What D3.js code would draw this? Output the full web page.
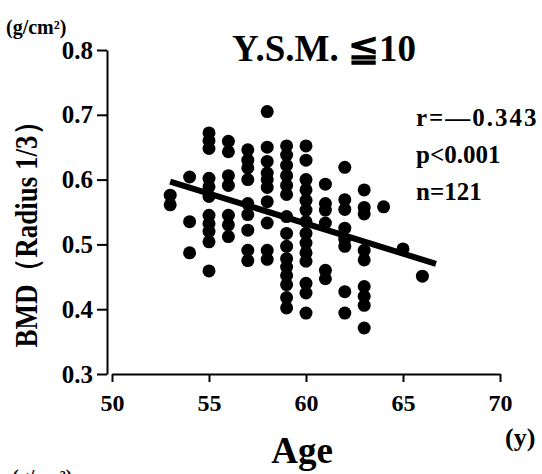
<!DOCTYPE html>
<html>
<head>
<meta charset="utf-8">
<script src="https://cdn.jsdelivr.net/npm/d3@7"></script>
<style>
  html, body { margin: 0; padding: 0; background: #fff; }
  svg { display: block; }
  text { font-family: "Liberation Serif", "Times New Roman", serif; font-weight: bold; fill: #000; }
</style>
</head>
<body>
<svg id="chart" width="542" height="474"></svg>
<script>
// Age (years) of each subject, paired index-wise with BMD values below
const ageValues = [
  53, 53,
  54, 54, 54,
  55, 55, 55, 55, 55, 55, 55, 55, 55, 55, 55,
  56, 56, 56, 56, 56, 56, 56,
  57, 57, 57, 57, 57, 57, 57, 57, 57,
  58, 58, 58, 58, 58, 58, 58, 58, 58, 58,
  59, 59, 59, 59, 59, 59, 59, 59, 59, 59, 59, 59, 59, 59, 59,
  60, 60, 60, 60, 60, 60, 60, 60, 60, 60, 60, 60, 60, 60,
  61, 61, 61, 61, 61, 61,
  62, 62, 62, 62, 62, 62, 62, 62,
  63, 63, 63, 63, 63, 63, 63, 63, 63,
  64, 65, 66
];
// BMD, radius 1/3 site (g/cm²)
const bmdValues = [
  0.576, 0.561,
  0.604, 0.535, 0.487,
  0.672, 0.660, 0.648, 0.602, 0.589, 0.574, 0.545, 0.532, 0.520, 0.504, 0.459,
  0.659, 0.643, 0.606, 0.591, 0.545, 0.530, 0.512,
  0.646, 0.630, 0.618, 0.600, 0.563, 0.546, 0.522, 0.491, 0.475,
  0.705, 0.650, 0.628, 0.610, 0.600, 0.588, 0.566, 0.533, 0.491, 0.477,
  0.652, 0.638, 0.622, 0.606, 0.591, 0.577, 0.543, 0.517, 0.497, 0.478, 0.465, 0.452, 0.438, 0.418, 0.402,
  0.652, 0.630, 0.600, 0.584, 0.568, 0.553, 0.535, 0.517, 0.502, 0.487, 0.474, 0.440, 0.425, 0.394,
  0.593, 0.563, 0.553, 0.533, 0.460, 0.447,
  0.619, 0.569, 0.554, 0.525, 0.508, 0.497, 0.427, 0.394,
  0.584, 0.557, 0.547, 0.491, 0.476, 0.435, 0.420, 0.406, 0.371,
  0.558, 0.493, 0.451
];
// Regression line end points
const fitAge = [53.0, 66.7];
const fitBmd = [0.597, 0.470];

const xTicks = [50, 55, 60, 65, 70];
const yTicks = [0.3, 0.4, 0.5, 0.6, 0.7, 0.8];
const statLines = ["r=\u20140.343", "p<0.001", "n=121"];

const svg = d3.select("#chart");

const x = d3.scaleLinear().domain([50, 70]).range([112, 500]);
const y = d3.scaleLinear().domain([0.3, 0.8]).range([374, 50]);

// Y axis
const yAxis = svg.append("g")
  .attr("transform", "translate(107,0)")
  .call(d3.axisLeft(y).tickValues(yTicks).tickFormat(d3.format(".1f")).tickSize(10).tickPadding(4).tickSizeOuter(0));
yAxis.select(".domain").attr("stroke", "#000").attr("stroke-width", 2);
yAxis.selectAll(".tick line").attr("stroke", "#000").attr("stroke-width", 2);
yAxis.selectAll(".tick text").attr("font-size", 25).attr("fill", "#000");

// X axis
const xAxis = svg.append("g")
  .attr("transform", "translate(0,374)")
  .call(d3.axisBottom(x).tickValues(xTicks).tickFormat(d3.format("d")).tickSize(8).tickPadding(12).tickSizeOuter(0));
xAxis.select(".domain").attr("stroke", "#000").attr("stroke-width", 2);
xAxis.selectAll(".tick line").attr("stroke", "#000").attr("stroke-width", 2);
xAxis.selectAll(".tick text").attr("font-size", 24).attr("fill", "#000");

// Data points
svg.append("g").selectAll("circle")
  .data(ageValues.map((a, i) => [a, bmdValues[i]]))
  .join("circle")
  .attr("cx", d => x(d[0]))
  .attr("cy", d => y(d[1]))
  .attr("r", 6.5)
  .attr("fill", "#000");

// Regression line
svg.append("line")
  .attr("x1", x(fitAge[0])).attr("y1", y(fitBmd[0]))
  .attr("x2", x(fitAge[1])).attr("y2", y(fitBmd[1]))
  .attr("stroke", "#000").attr("stroke-width", 6);

// Title
svg.append("text").attr("x", 324).attr("y", 61).attr("text-anchor", "middle")
  .attr("font-size", 37).text("Y.S.M. \u226610");

// Unit label
svg.append("text").attr("x", 6).attr("y", 34).attr("font-size", 20).text("(g/cm\u00b2)");

// Statistics
svg.append("g").selectAll("text").data(statLines).join("text")
  .attr("x", 416).attr("y", (d, i) => 126 + i * 37)
  .attr("font-size", 25)
  .attr("letter-spacing", (d, i) => i === 0 ? 2 : 0)
  .text(d => d);

// Axis titles
svg.append("text")
  .attr("transform", "translate(37,228) rotate(-90) scale(1,1.15)")
  .attr("text-anchor", "middle").attr("font-size", 27)
  .text("BMD\uff08Radius 1/3\uff09");

svg.append("text").attr("x", 302).attr("y", 463).attr("text-anchor", "middle")
  .attr("font-size", 37).text("Age");

svg.append("text").attr("x", 505).attr("y", 446).attr("font-size", 26).text("(y)");

// Heading of the panel below, cut off by the bottom edge
svg.append("text").attr("x", 12).attr("y", 484).attr("font-size", 20).text("(g/cm\u00b2)");
</script>
</body>
</html>
